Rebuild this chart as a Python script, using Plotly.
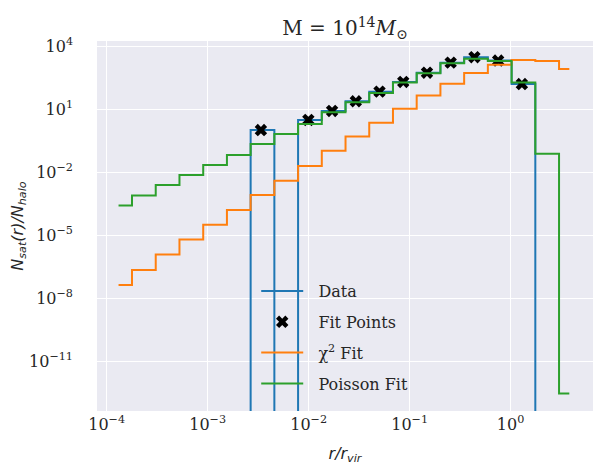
import numpy as np
import plotly.graph_objects as go

# bin centres in r/r_vir
r_centers = [1.310e-4, 2.251e-4, 3.868e-4, 6.645e-4, 1.142e-3, 1.961e-3, 3.367e-3,
             5.783e-3, 9.933e-3, 1.706e-2, 2.931e-2, 5.032e-2, 8.647e-2, 0.1485,
             0.2551, 0.4383, 0.7528, 1.293, 2.221, 3.815]

# measured satellite counts per halo (0 = empty bin)
data_vals = [0, 0, 0, 0, 0, 0, 1.02, 0, 3.1, 8.3, 24.0, 69.0, 200.0, 550.0,
             1660.0, 3020.0, 2090.0, 158.0, 0, 0]

chi2_vals = [4.3e-8, 2.2e-7, 1.2e-6, 6.2e-6, 3.2e-5, 1.6e-4, 8.3e-4, 3.9e-3,
             2.0e-2, 0.107, 0.50, 2.3, 10.7, 44.7, 166.0, 537.0, 1320.0,
             2240.0, 2000.0, 830.0]

poisson_vals = [2.6e-4, 7.8e-4, 2.5e-3, 7.4e-3, 2.2e-2, 6.6e-2, 0.22, 0.66,
                2.0, 7.2, 21.4, 60.0, 186.0, 513.0, 1550.0, 2510.0, 2000.0,
                186.0, 0.076, 2.9e-13]

x_ticks = [1e-4, 1e-3, 1e-2, 1e-1, 1e0]
x_ticktext = ["10<sup>\u22124</sup>", "10<sup>\u22123</sup>", "10<sup>\u22122</sup>",
              "10<sup>\u22121</sup>", "10<sup>0</sup>"]
y_ticks = [1e4, 1e1, 1e-2, 1e-5, 1e-8, 1e-11]
y_ticktext = ["10<sup>4</sup>", "10<sup>1</sup>", "10<sup>\u22122</sup>",
              "10<sup>\u22125</sup>", "10<sup>\u22128</sup>", "10<sup>\u221211</sup>"]

BLUE, ORANGE, GREEN = "#1f77b4", "#ff7f0e", "#2ca02c"
TXT = "#262626"
SERIF = "DejaVu Serif"
PAD = "\u00a0\u00a0"  # a little room between legend symbol and label


def mid_steps(x, y, floor=1e-30):
    # step(where='mid'): jumps sit at linear midpoints between centres
    x = np.asarray(x, float)
    y = np.asarray(y, float)
    y = np.where(y > 0, y, floor)  # log axis: clip empty bins far below
    mids = (x[:-1] + x[1:]) / 2
    xs = np.concatenate([[x[0]], mids, [x[-1]]])
    ys = np.concatenate([y, [y[-1]]])
    return xs, ys


fig = go.Figure()

xs, ys = mid_steps(r_centers, data_vals)
fig.add_trace(go.Scatter(x=xs, y=ys, mode="lines", line_shape="hv", name=PAD + "Data",
                         line=dict(color=BLUE, width=2), legendgroup="a"))

fit_x = [r for r, v in zip(r_centers, data_vals) if v > 0]
fit_y = [v for v in data_vals if v > 0]
fig.add_trace(go.Scatter(x=fit_x, y=fit_y, mode="markers", name=PAD + "Fit Points",
                         marker=dict(symbol="x", size=11, color="black"),
                         legendgroup="b"))

for name, vals, col, grp in [("\u03c7<sup>2</sup> Fit", chi2_vals, ORANGE, "c"),
                             ("Poisson Fit", poisson_vals, GREEN, "d")]:
    xs, ys = mid_steps(r_centers, vals)
    fig.add_trace(go.Scatter(x=xs, y=ys, mode="lines", line_shape="hv", name=PAD + name,
                             line=dict(color=col, width=2), legendgroup=grp))

# the page body has an 8px margin, so the figure is 8px smaller than the window
fig.update_layout(
    width=594, height=468,
    margin=dict(l=89, r=9, t=33, b=65),
    paper_bgcolor="white", plot_bgcolor="#EAEAF2",
    font=dict(family=SERIF, color=TXT, size=15),
    title=dict(text="M = 10<sup>14</sup><i>M</i><sub>\u2299</sub>",
               x=0.5, xref="paper", y=1 - 20 / 468, yref="container",
               yanchor="middle", font=dict(size=20, family=SERIF, color=TXT)),
    legend=dict(x=0.321, y=0.37, xanchor="left", yanchor="top",
                bgcolor="rgba(0,0,0,0)", font=dict(size=16, family=SERIF, color=TXT),
                tracegroupgap=7, itemwidth=42),
    showlegend=True,
)

fig.update_xaxes(type="log", range=[-4.096, 0.816], tickvals=x_ticks, ticktext=x_ticktext,
                 showgrid=True, gridcolor="white", gridwidth=1, zeroline=False,
                 showline=False, ticks="", tickfont=dict(size=16), automargin=False,
                 ticklabelstandoff=2,
                 title=dict(text="<i>r/r</i><sub><i>vir</i></sub>",
                            font=dict(family="DejaVu Sans", size=16, color=TXT), standoff=14))
fig.update_yaxes(type="log", range=[-13.37, 4.25], tickvals=y_ticks, ticktext=y_ticktext,
                 showgrid=True, gridcolor="white", gridwidth=1, zeroline=False,
                 showline=False, ticks="", tickfont=dict(size=16), ticklabelstandoff=23,
                 automargin=False,
                 title=dict(text="<i>N</i><sub><i>sat</i></sub><i>(r)/N</i><sub><i>halo</i></sub>",
                            font=dict(family="DejaVu Sans", size=16, color=TXT), standoff=14))

fig.write_html("out.html")
